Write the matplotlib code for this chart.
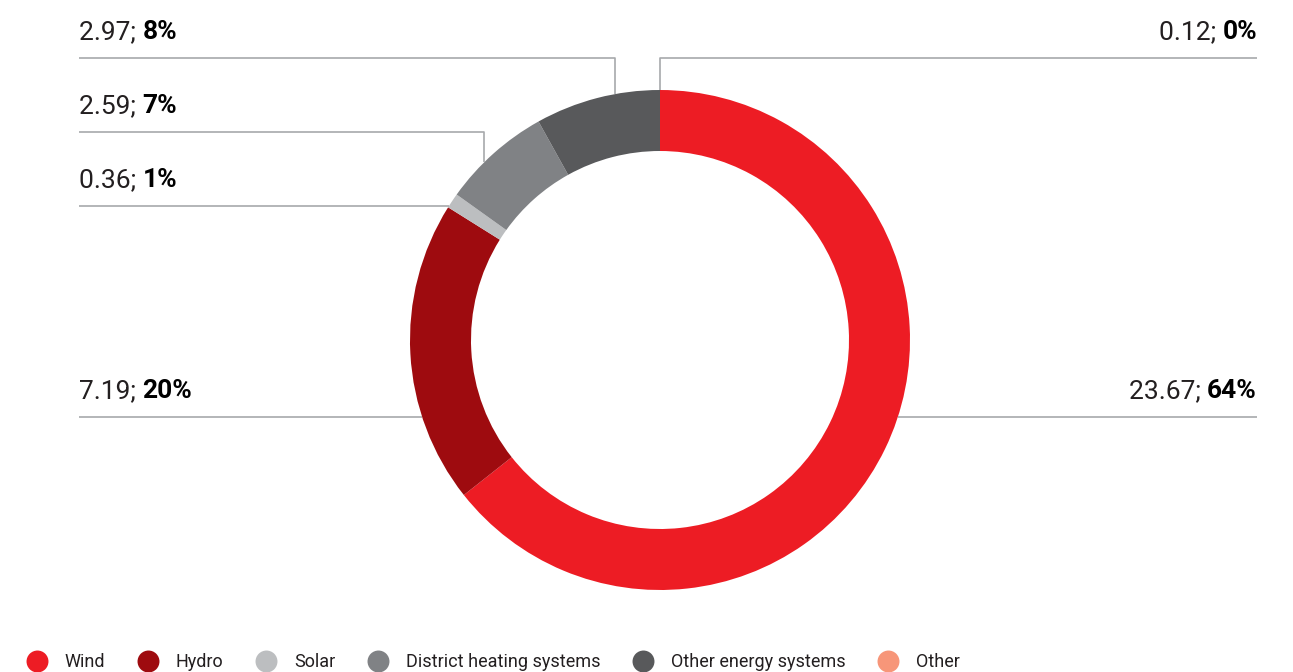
import numpy as np
import matplotlib.pyplot as plt
from matplotlib.lines import Line2D

plt.rcParams['font.family'] = ['Roboto', 'DejaVu Sans']

# data
names = ["Wind", "Hydro", "Solar", "District heating systems", "Other energy systems", "Other"]
values = [23.67, 7.19, 0.36, 2.59, 2.97, 0.12]
pcts = [64, 20, 1, 7, 8, 0]
colors = ["#ED1C24", "#9E0B0F", "#BCBEC0", "#808285", "#58595B", "#F79679"]

# label layout (pixels from top-left), not data
W, H = 1293, 672
cx, cy, R, ring = 660, H - 340, 250, 61
side = ["right", "left", "left", "left", "left", "right"]
line_y = [417, 417, 206, 132, 58, 58]
vert_x = [None, None, None, 484, 615, 660]
x_left, x_right = 79, 1257
line_col = "#A7A9AC"

fig = plt.figure(figsize=(W / 100, H / 100), dpi=100)
ax = fig.add_axes([0, 0, 1, 1])

# the "Other" share is too small to show up in the ring
ax.pie(values[:5], colors=colors[:5], startangle=90, counterclock=False,
       radius=R, center=(cx, cy),
       wedgeprops=dict(width=ring, edgecolor="none", linewidth=0))
ax.set_xlim(0, W)
ax.set_ylim(0, H)
ax.set_aspect("equal")
ax.axis("off")

for i in range(len(values)):
    yl = H - line_y[i]
    x_end = x_right if side[i] == "right" else x_left
    if vert_x[i] is None:
        dx = np.sqrt(R ** 2 - (yl - cy) ** 2)
        xc = cx + dx if side[i] == "right" else cx - dx
        ax.plot([xc, x_end], [yl, yl], color=line_col, lw=1.2, solid_capstyle="butt")
    else:
        xv = vert_x[i]
        yc = cy + np.sqrt(R ** 2 - (xv - cx) ** 2)
        ax.plot([x_end, xv, xv], [yl, yl, yc], color=line_col, lw=1.2, solid_capstyle="butt")

    yt = yl + 19
    num = "{:.2f}; ".format(values[i])
    pc = "{}%".format(pcts[i])
    if side[i] == "left":
        t1 = ax.text(x_left, yt, num, ha="left", va="baseline", fontsize=19,
                     fontweight="normal", color="#231F20")
        ax.annotate(pc, xy=(1, 0), xycoords=t1, ha="left", va="bottom",
                    fontsize=19, fontweight="bold", color="#000000")
    else:
        t2 = ax.text(x_right, yt, pc, ha="right", va="baseline", fontsize=19,
                     fontweight="bold", color="#000000")
        ax.annotate(num, xy=(0, 0), xycoords=t2, ha="right", va="bottom",
                    fontsize=19, fontweight="normal", color="#231F20")

handles = [Line2D([], [], marker="o", linestyle="none", markersize=15.8,
                  markerfacecolor=c, markeredgecolor="none") for c in colors]
fig.legend(handles, names, ncol=6, loc="center left",
           bbox_to_anchor=(25 / W, (H - 662) / H), frameon=False,
           fontsize=13, handlelength=1.3, handletextpad=0.9,
           columnspacing=1.71, borderpad=0, borderaxespad=0,
           labelcolor="#231F20")

fig.savefig("out.png", dpi=100)
